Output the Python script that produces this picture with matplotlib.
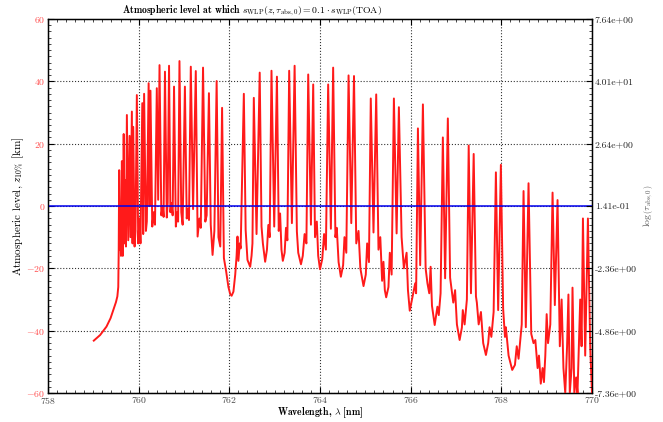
"""Atmospheric level at which the WLP signal drops to 10 % of its TOA value."""

import matplotlib
import matplotlib.pyplot as plt
from matplotlib.ticker import MultipleLocator

matplotlib.use("Agg")

plt.rcParams["font.family"] = "serif"
plt.rcParams["font.serif"] = ["cmr10", "DejaVu Serif"]
plt.rcParams["mathtext.fontset"] = "cm"
plt.rcParams["axes.formatter.use_mathtext"] = True
plt.rcParams["axes.unicode_minus"] = True

# ── Data ─────────────────────────────────────────────────────────────────────

WAVELENGTH = [
    759.01, 759.15, 759.29, 759.38, 759.44, 759.50, 759.53, 759.55, 759.56, 759.57,
    759.59, 759.60, 759.61, 759.63, 759.65, 759.67, 759.69, 759.71, 759.72, 759.74,
    759.77, 759.80, 759.82, 759.85, 759.865, 759.88, 759.91, 759.93, 759.96, 759.99,
    760.02, 760.04, 760.08, 760.10, 760.12, 760.16, 760.18, 760.22, 760.24, 760.26,
    760.30, 760.33, 760.36, 760.40, 760.43, 760.46, 760.50, 760.53, 760.55, 760.58,
    760.62, 760.64, 760.67, 760.70, 760.72, 760.75, 760.78, 760.82, 760.85, 760.87,
    760.90, 760.94, 760.97, 761.02, 761.06, 761.09, 761.11, 761.15, 761.20, 761.26,
    761.30, 761.34, 761.37, 761.42, 761.47, 761.50, 761.55, 761.59, 761.63, 761.67,
    761.72, 761.76, 761.80, 761.84, 761.88, 761.93, 761.98, 762.02, 762.05, 762.09,
    762.13, 762.16, 762.18, 762.20, 762.23, 762.25, 762.32, 762.36, 762.40, 762.46,
    762.49, 762.51, 762.54, 762.60, 762.67,
    762.71, 762.74, 762.79, 762.83, 762.86, 762.89, 762.93, 762.99, 763.05,
    763.09, 763.12, 763.15, 763.18, 763.22, 763.25, 763.28, 763.32, 763.38, 763.44,
    763.49, 763.52, 763.58, 763.62, 763.66, 763.70, 763.74, 763.80, 763.85,
    763.89, 763.93, 763.96, 764.00, 764.05, 764.09, 764.13, 764.18, 764.24, 764.29,
    764.34, 764.37, 764.41, 764.46, 764.51, 764.54, 764.58, 764.63, 764.69, 764.75,
    764.80, 764.85, 764.89, 764.96, 765.01, 765.04, 765.08, 765.12, 765.18, 765.24,
    765.29, 765.33, 765.37, 765.40, 765.43, 765.46, 765.51, 765.54, 765.58, 765.63,
    765.69, 765.74,
    765.80, 765.85, 765.91, 765.94, 765.98, 766.03, 766.10, 766.12, 766.16, 766.21,
    766.27,
    766.33, 766.37, 766.41, 766.44, 766.47, 766.53, 766.59, 766.62, 766.66, 766.71,
    766.76, 766.82,
    766.87, 766.94, 766.98, 767.02, 767.08, 767.13, 767.15, 767.19, 767.24, 767.28,
    767.33, 767.39,
    767.44, 767.46, 767.50, 767.55, 767.60, 767.66, 767.71, 767.74, 767.78, 767.83,
    767.88, 767.93, 767.99,
    768.04, 768.08, 768.10, 768.16, 768.24, 768.30, 768.34, 768.38, 768.45, 768.49,
    768.54, 768.60,
    768.66, 768.71, 768.75, 768.80, 768.83, 768.87, 768.91, 768.94, 768.97, 769.00,
    769.03, 769.08, 769.13, 769.18, 769.24,
    769.29, 769.33, 769.37, 769.41, 769.45, 769.48, 769.51, 769.55, 769.57, 769.61,
    769.65, 769.68, 769.74, 769.77, 769.80, 769.85, 769.91, 769.96, 770.00,
]
LEVEL_KM = [
    -43.2, -41.4, -38.7, -36.0, -33.4, -30.8, -29.0, -26.0, -14.0, 11.5,
    -14.0, -10.0, -16.0, 14.4, -16.0, 23.1, -12.0, 8.3, -13.0, 29.2,
    -11.0, 22.5, -10.0, 30.3, -12.0, 25.4, -13.0, -8.0, 35.6, -12.0,
    -4.0, -12.0, 33.0, -9.0, 36.0, -8.0, -5.0, 39.4, 0.0, 37.0,
    -6.6, -2.0, -6.0, 37.8, 2.0, 45.2, -3.0, 0.0, -3.5, 43.1,
    -3.7, 1.0, 45.0, -2.0, 1.0, -3.0, 38.3, -6.6, -2.0, -5.0,
    46.5, -2.0, -6.0, 38.3, -4.0, -1.0, -4.5, 44.7, -1.0, 43.3,
    -9.8, -4.0, -7.0, 44.4, -5.0, -3.0, 36.2, -6.0, -15.7, -8.0,
    40.1, -10.0, -13.0, 31.5, -16.7, -21.0, -26.0, -28.3, -28.8, -27.5,
    -22.0, -16.0, -9.8, -17.6, -12.0, -13.6, 36.0, -7.7, -17.3, -19.5,
    -16.0, -12.0, 34.7, -9.0, 42.8,
    -6.6, -12.0, -17.9, -14.0, -6.1, -10.0, 43.4, -6.6, 41.5,
    -8.0, -2.4, -14.0, -17.6, -15.0, -7.0, -11.0, 43.4, -5.5, 45.0,
    -8.2, -15.0, -18.7, -16.0, -9.0, -12.0, 42.2, -6.0, 39.0,
    -10.0, -5.0, -16.0, -20.3, -17.0, -9.0, -14.0, 39.0, -7.3, 44.4,
    -10.0, -7.0, -18.0, -22.7, -19.0, -10.0, -15.0, 41.9, -5.5, 41.7,
    -12.0, -8.0, -20.0, -25.7, -22.0, -12.0, -18.0, 34.5, -8.5, 35.8,
    -14.0, -10.0, -24.0, -17.9, -27.0, -29.3, -26.0, -15.0, -22.0, 34.5,
    -8.8, 31.7,
    -10.0, -20.0, -15.0, -27.0, -33.6, -30.0, -24.8, -28.0, 24.9, -19.0,
    32.6,
    -20.0, -24.8, -28.0, -19.5, -32.0, -38.2, -32.3, -35.0, -28.0, 22.0,
    -23.2, 28.1,
    -23.0, -31.0, -27.0, -38.0, -43.0, -39.0, -33.4, -38.0, -30.0, 19.4,
    -28.0, 16.7,
    -29.0, -31.0, -38.0, -34.0, -44.0, -47.8, -44.0, -38.9, -42.0, -34.0,
    10.8, -33.4, 13.2,
    -33.0, -42.0, -38.9, -48.0, -52.6, -51.0, -45.0, -49.0, -38.0, 4.8,
    -38.9, 7.3,
    -41.0, -44.0, -43.0, -52.0, -48.0, -57.0, -52.0, -56.5, -48.0, -34.7,
    -44.0, -38.0, 4.3, -31.8, 1.9,
    -45.0, -30.0, -52.0, -60.0, -45.0, -28.4, -60.0, -52.0, -26.2, -60.0,
    -55.0, -60.0, -30.0, -45.0, -4.0, -48.0, -4.0, -45.0, -60.0,
]

LEFT_TICKS = [-60, -40, -20, 0, 20, 40, 60]
RIGHT_TICK_LABELS = [
    "-7.36e+00", "-4.86e+00", "-2.36e+00", "1.41e-01",
    "2.64e+00", "4.01e+01", "7.64e+00",
]
X_TICKS = [758, 760, 762, 764, 766, 768, 770]

# ── Chart ────────────────────────────────────────────────────────────────────

fig = plt.figure(figsize=(6.63, 4.22), dpi=100)
ax = fig.add_axes([48 / 663, 1 - 393 / 422, 544 / 663, 374 / 422])

ax.plot(WAVELENGTH, LEVEL_KM, color="#ff1a1a", linewidth=1.4, zorder=3)
ax.axhline(0, color="#0000ee", linewidth=1.1, zorder=4)

ax.set_xlim(758, 770)
ax.set_ylim(-60, 60)
ax.set_xticks(X_TICKS)
ax.set_yticks(LEFT_TICKS)
ax.xaxis.set_minor_locator(MultipleLocator(0.2))
ax.yaxis.set_minor_locator(MultipleLocator(2))
ax.tick_params(which="both", direction="in", top=True, right=False)
ax.tick_params(which="major", length=4, width=0.8)
ax.tick_params(which="minor", length=2, width=0.5)
ax.tick_params(axis="x", labelsize=7, labelcolor="#444444", pad=1.5)
ax.tick_params(axis="y", labelsize=7, labelcolor="#ff4d4d", pad=2)
ax.grid(True, color="black", linestyle=":", linewidth=0.8, alpha=0.8)
for spine in ax.spines.values():
    spine.set_linewidth(1.0)

fig.text(320 / 663, 1 - 413 / 422, r"Wavelength, $\lambda$ [nm]",
         family="cmb10", fontsize=7, ha="center", va="center")
fig.text(18 / 663, 1 - 206 / 422, r"Atmospheric level, $z_{10\%}$ [km]",
         fontsize=8, rotation=90, ha="center", va="center")

ax2 = ax.twinx()
ax2.set_ylim(-60, 60)
ax2.set_yticks(LEFT_TICKS)
ax2.set_yticklabels(RIGHT_TICK_LABELS, family="cmr10")
ax2.yaxis.set_minor_locator(MultipleLocator(2))
ax2.tick_params(which="both", direction="in")
ax2.tick_params(which="major", length=4, width=0.8)
ax2.tick_params(which="minor", length=2, width=0.5)
ax2.tick_params(axis="y", labelsize=7, labelcolor="#222222", pad=2)
fig.text(649 / 663, 1 - 206 / 422, r"$\log\left(\tau_{\rm abs,0}\right)$",
         fontsize=7, color="#555555", rotation=90, ha="center", va="center")

fig.text(252 / 663, 1 - 11 / 422,
         r"Atmospheric level at which $s_{\rm WLP}(z, \tau_{\rm abs,0}) = 0.1 \cdot s_{\rm WLP}(\rm TOA)$",
         family="cmb10", fontsize=7, ha="center", va="center")

fig.savefig("out.png", dpi=100)
plt.close(fig)
